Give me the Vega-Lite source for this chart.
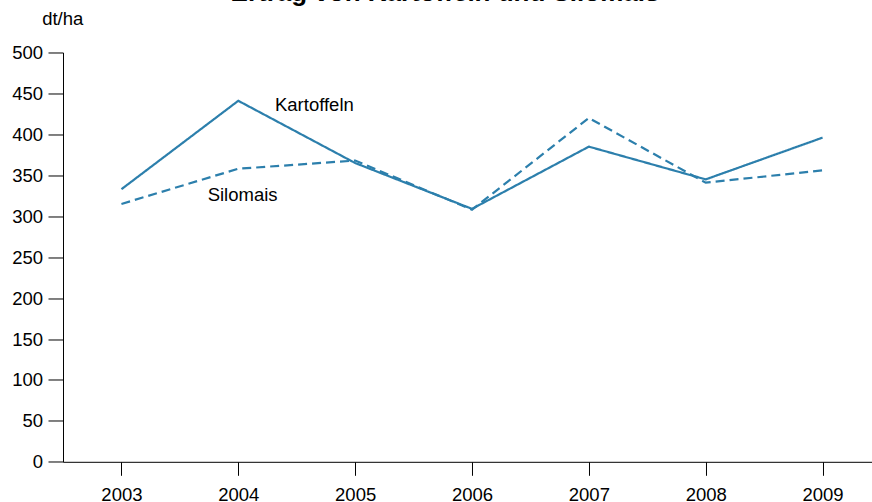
{
  "$schema": "https://vega.github.io/schema/vega-lite/v6.json",
  "autosize": "none",
  "padding": {"left": 63, "top": 52.5, "right": 0, "bottom": 40},
  "width": 818,
  "height": 409.3,
  "background": "white",
  "config": {
    "view": {"stroke": null},
    "font": "Liberation Sans"
  },
  "title": {
    "text": "Ertrag von Kartoffeln und Silomais",
    "font": "Liberation Sans",
    "fontSize": 26,
    "fontWeight": "bold",
    "color": "#000000",
    "anchor": "middle",
    "frame": "group",
    "dx": -27,
    "dy": 0
  },
  "datasets": {
    "ertrag": [
      {"Jahr": 2003, "Frucht": "Kartoffeln", "Wert": 333},
      {"Jahr": 2004, "Frucht": "Kartoffeln", "Wert": 441},
      {"Jahr": 2005, "Frucht": "Kartoffeln", "Wert": 365},
      {"Jahr": 2006, "Frucht": "Kartoffeln", "Wert": 309},
      {"Jahr": 2007, "Frucht": "Kartoffeln", "Wert": 385},
      {"Jahr": 2008, "Frucht": "Kartoffeln", "Wert": 345},
      {"Jahr": 2009, "Frucht": "Kartoffeln", "Wert": 396},
      {"Jahr": 2003, "Frucht": "Silomais", "Wert": 315},
      {"Jahr": 2004, "Frucht": "Silomais", "Wert": 358},
      {"Jahr": 2005, "Frucht": "Silomais", "Wert": 368},
      {"Jahr": 2006, "Frucht": "Silomais", "Wert": 308},
      {"Jahr": 2007, "Frucht": "Silomais", "Wert": 420},
      {"Jahr": 2008, "Frucht": "Silomais", "Wert": 341},
      {"Jahr": 2009, "Frucht": "Silomais", "Wert": 356}
    ],
    "beschriftung": [
      {"Jahr": 2004.314, "Wert": 428.8, "Text": "Kartoffeln"},
      {"Jahr": 2003.738, "Wert": 318.8, "Text": "Silomais"}
    ]
  },
  "layer": [
    {
      "data": {"name": "ertrag"},
      "mark": {"type": "line", "strokeWidth": 2.2, "color": "#2c7fac"},
      "encoding": {
        "x": {
          "field": "Jahr",
          "type": "quantitative",
          "scale": {"domain": [2002.5, 2009.5], "nice": false, "zero": false},
          "axis": {
            "title": null,
            "values": [2003, 2004, 2005, 2006, 2007, 2008, 2009],
            "format": "d",
            "grid": false,
            "domainColor": "#000000",
            "domainWidth": 1,
            "tickColor": "#000000",
            "tickSize": 13.5,
            "tickWidth": 1,
            "labelFont": "Liberation Sans",
            "labelFontSize": 18.5,
            "labelColor": "#000000",
            "labelPadding": 10,
            "labelFlush": false
          }
        },
        "y": {
          "field": "Wert",
          "type": "quantitative",
          "scale": {"domain": [0, 500], "nice": false},
          "axis": {
            "title": "dt/ha",
            "titleAngle": 0,
            "titleAlign": "left",
            "titleBaseline": "alphabetic",
            "titleX": -21.3,
            "titleY": -27.5,
            "titleFont": "Liberation Sans",
            "titleFontSize": 18.5,
            "titleFontWeight": "normal",
            "titleColor": "#000000",
            "values": [0, 50, 100, 150, 200, 250, 300, 350, 400, 450, 500],
            "grid": false,
            "domainColor": "#000000",
            "domainWidth": 1,
            "tickColor": "#000000",
            "tickSize": 15,
            "tickWidth": 1,
            "labelFont": "Liberation Sans",
            "labelFontSize": 18.5,
            "labelColor": "#000000",
            "labelPadding": 5.5,
            "labelFlush": false
          }
        },
        "strokeDash": {
          "field": "Frucht",
          "type": "nominal",
          "scale": {"domain": ["Kartoffeln", "Silomais"], "range": [[1, 0], [9, 5]]},
          "legend": null
        }
      }
    },
    {
      "data": {"name": "beschriftung"},
      "mark": {"type": "text", "align": "left", "baseline": "alphabetic", "font": "Liberation Sans", "fontSize": 18.5, "color": "#000000"},
      "encoding": {
        "x": {"field": "Jahr", "type": "quantitative"},
        "y": {"field": "Wert", "type": "quantitative"},
        "text": {"field": "Text", "type": "nominal"}
      }
    }
  ]
}
